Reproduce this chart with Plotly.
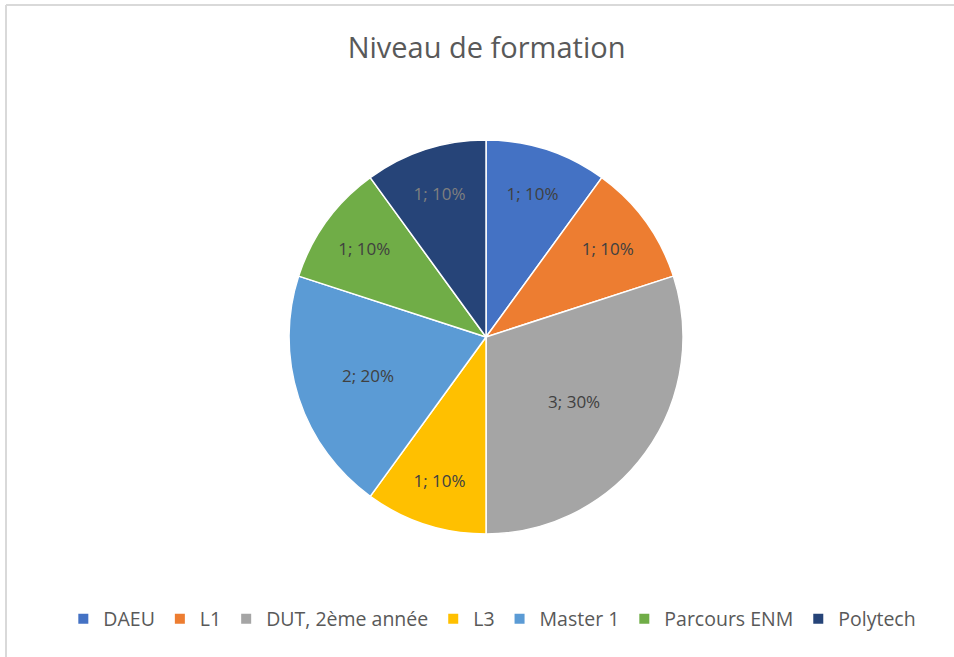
import plotly.graph_objects as go

categories = ["DAEU", "L1", "DUT, 2ème année", "L3", "Master 1", "Parcours ENM", "Polytech"]
values = [1, 1, 3, 1, 2, 1, 1]
colors = ["#4472C4", "#ED7D31", "#A5A5A5", "#FFC000", "#5B9BD5", "#70AD47", "#264478"]
label_colors = ["#404040", "#404040", "#404040", "#404040", "#404040", "#404040", "#7F7F7F"]

TOP, BOTTOM = 140, 123
PLOT_H = 657 - TOP - BOTTOM

fig = go.Figure(go.Pie(
    labels=categories,
    values=values,
    sort=False,
    direction="clockwise",
    rotation=0,
    marker=dict(colors=colors, line=dict(color="white", width=1.5)),
    texttemplate="%{value}; %{percent:.0%}",
    textposition="inside",
    insidetextorientation="horizontal",
    textfont=dict(family="Open Sans, Arial", size=17, color=label_colors),
    hoverinfo="label+value+percent",
    domain=dict(x=[0.0127, 1.0], y=[0.0, 1.0]),
))

fig.update_layout(
    width=954,
    height=657,
    paper_bgcolor="white",
    plot_bgcolor="white",
    margin=dict(l=6, r=0, t=TOP, b=BOTTOM, autoexpand=False),
    title=dict(text="Niveau de formation", x=0.51, xanchor="center",
               yref="container", y=1 - 48 / 657, yanchor="middle",
               font=dict(family="Open Sans, Arial", size=29, color="#595959")),
    legend=dict(orientation="h", x=0.513, xanchor="center",
                yref="container", y=1 - 619 / 657, yanchor="middle",
                font=dict(family="Open Sans, Arial", size=19.5, color="#595959"),
                itemsizing="constant", traceorder="normal"),
    shapes=[
        dict(type="line", xref="paper", yref="paper", x0=0, x1=1.1,
             y0=1 + (TOP - 5) / PLOT_H, y1=1 + (TOP - 5) / PLOT_H,
             line=dict(color="#D9D9D9", width=2)),
        dict(type="line", xref="paper", yref="paper", x0=0, x1=0,
             y0=1 + (TOP - 5) / PLOT_H, y1=-0.5,
             line=dict(color="#D9D9D9", width=2)),
    ],
)

fig.write_html("out.html", config={"displayModeBar": False},
               post_script="document.body.style.margin='0';")
